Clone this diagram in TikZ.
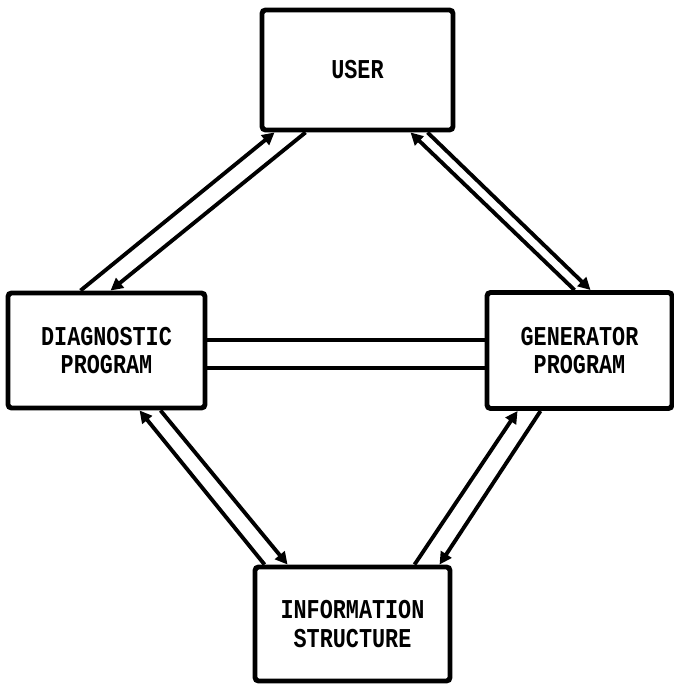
\documentclass[tikz,border=0pt]{standalone}
\usepackage{fontspec}
\newfontfamily\typefont[FakeStretch=0.8]{Liberation Mono}
\usetikzlibrary{arrows.meta}

\begin{document}
\begin{tikzpicture}[
    box/.style={draw, line width=2.8pt, rounded corners=2pt, align=center,
        font=\typefont\bfseries\fontsize{15.5}{16}\selectfont},
    link/.style={line width=2.2pt, -{Triangle[length=7pt, width=7pt]}},
    bond/.style={line width=2.2pt}]
    \useasboundingbox (0,0) rectangle (13.48,13.70);

    % User
    \node[box, minimum width=3.82cm, minimum height=2.4cm] (user) at (7.15,12.3) {USER};

    % Diagnostic and generator programs
    \node[box, minimum width=3.94cm, minimum height=2.3cm] (diag) at (2.13,6.69) {DIAGNOSTIC\\PROGRAM};
    \node[box, minimum width=3.7cm, minimum height=2.32cm] (gen) at (11.59,6.69) {GENERATOR\\PROGRAM};

    % Information structure
    \node[box, minimum width=3.9cm, minimum height=2.28cm] (info) at (7.05,1.22) {INFORMATION\\STRUCTURE};

    % User <-> diagnostic program
    \draw[link] ([xshift=1.5cm]diag.north west) -- ([xshift=0.3cm]user.south west);
    \draw[link] ([xshift=0.92cm]user.south west) -- ([xshift=2.1cm]diag.north west);

    % User <-> generator program
    \draw[link] ([xshift=1.8cm]gen.north west) -- ([xshift=3.02cm]user.south west);
    \draw[link] ([xshift=3.36cm]user.south west) -- ([xshift=2.12cm]gen.north west);

    % Diagnostic program <-> information structure
    \draw[link] ([xshift=0.24cm]info.north west) -- ([xshift=2.68cm]diag.south west);
    \draw[link] ([xshift=3.1cm]diag.south west) -- ([xshift=0.7cm]info.north west);

    % Generator program <-> information structure
    \draw[link] ([xshift=3.24cm]info.north west) -- ([xshift=0.66cm]gen.south west);
    \draw[link] ([xshift=1.12cm]gen.south west) -- ([xshift=3.74cm]info.north west);

    % Diagnostic program -- generator program, no tips
    \draw[bond] ([yshift=0.21cm]diag.east) -- ([yshift=0.21cm]gen.west);
    \draw[bond] ([yshift=-0.35cm]diag.east) -- ([yshift=-0.35cm]gen.west);
\end{tikzpicture}
\end{document}
